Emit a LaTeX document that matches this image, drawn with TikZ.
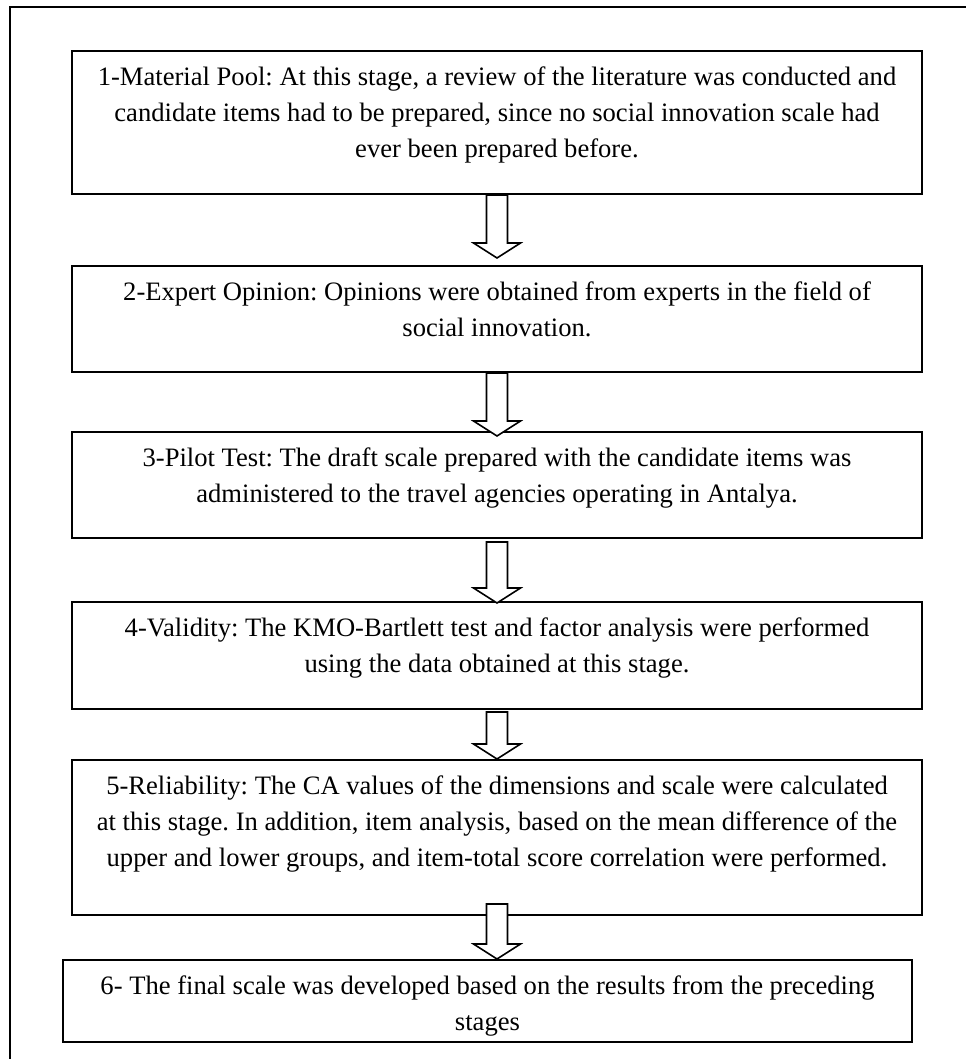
\documentclass[tikz,border=0pt]{standalone}
\usepackage{fontspec}
\setmainfont{Liberation Serif}
\usetikzlibrary{calc,positioning}
\frenchspacing
\newcommand{\Px}{0.5pt}
\newcommand{\Shaft}{5.25pt}
\newcommand{\Wing}{11.75pt}
\newcommand{\Head}{7.5pt}
% hollow block arrow: from, to, start shift (down), tip shift (up)
\newcommand{\StageArrow}[4]{%
  \draw[stagearrow] let \p1=(#1.south), \p2=(#2.north) in
    (\x1-\Shaft,{\y1-(#3)}) -- (\x1-\Shaft,{\y2+(#4)+\Head}) -- (\x1-\Wing,{\y2+(#4)+\Head})
    -- (\x1,{\y2+(#4)}) -- (\x1+\Wing,{\y2+(#4)+\Head}) -- (\x1+\Shaft,{\y2+(#4)+\Head})
    -- (\x1+\Shaft,{\y1-(#3)}) -- cycle;}

\begin{document}
\begin{tikzpicture}[x=\Px,y=-\Px, line join=miter,
  stage/.style={draw, line width=1pt, minimum width=425pt, inner sep=0pt},
  stagetext/.style={align=center, inner sep=0pt, font=\fontsize{13.3}{18}\selectfont},
  stagearrow/.style={draw, fill=white, line width=0.8pt}]

  \useasboundingbox (0,0) rectangle (965,1059);

  % ---- outer frame ----------------------------------------------------------
  \draw[line width=1pt] (10,1059) -- (10,7) -- (966,7);

  % ---- the stages -----------------------------------------------------------
  \node[stage, minimum height=71.5pt] (s1) at (497,122.5) {};
  \node[stage, minimum height=53pt]   (s2) at (497,319) {};
  \node[stage, minimum height=53pt]   (s3) at (497,485) {};
  \node[stage, minimum height=53.5pt] (s4) at (497,655.5) {};
  \node[stage, minimum height=77.5pt] (s5) at (497,837.5) {};
  \node[stage, minimum height=41pt, minimum width=424.5pt] (s6) at (487.5,1001) {};

  \node[stagetext, below=8pt of s1.north] (t1) {1-Material Pool: At this stage, a review of the literature was conducted and\\
    candidate items had to be prepared, since no social innovation scale had\\
    ever been prepared before.};
  \node[stagetext, below=8pt of s2.north] (t2) {2-Expert Opinion: Opinions were obtained from experts in the field of\\
    social innovation.};
  \node[stagetext, below=8pt of s3.north] (t3) {3-Pilot Test: The draft scale prepared with the candidate items was\\
    administered to the travel agencies operating in Antalya.};
  \node[stagetext, below=8pt of s4.north] (t4) {4-Validity: The KMO-Bartlett test and factor analysis were performed\\
    using the data obtained at this stage.};
  \node[stagetext, below=8pt of s5.north] (t5) {5-Reliability: The CA values of the dimensions and scale were calculated\\
    at this stage. In addition, item analysis, based on the mean difference of the\\
    upper and lower groups, and item-total score correlation were performed.};
  \node[stagetext, below=8pt of s6.north] (t6) {6- The final scale was developed based on the results from the preceding\\
    stages};

  % ---- arrows between stages -------------------------------------------------
  \StageArrow{s1}{s2}{0pt}{3.5pt}
  \StageArrow{s2}{s3}{0pt}{-2.5pt}
  \StageArrow{s3}{s4}{1.5pt}{-1pt}
  \StageArrow{s4}{s5}{1pt}{0pt}
  \StageArrow{s5}{s6}{-6pt}{0pt}

\end{tikzpicture}
\end{document}
